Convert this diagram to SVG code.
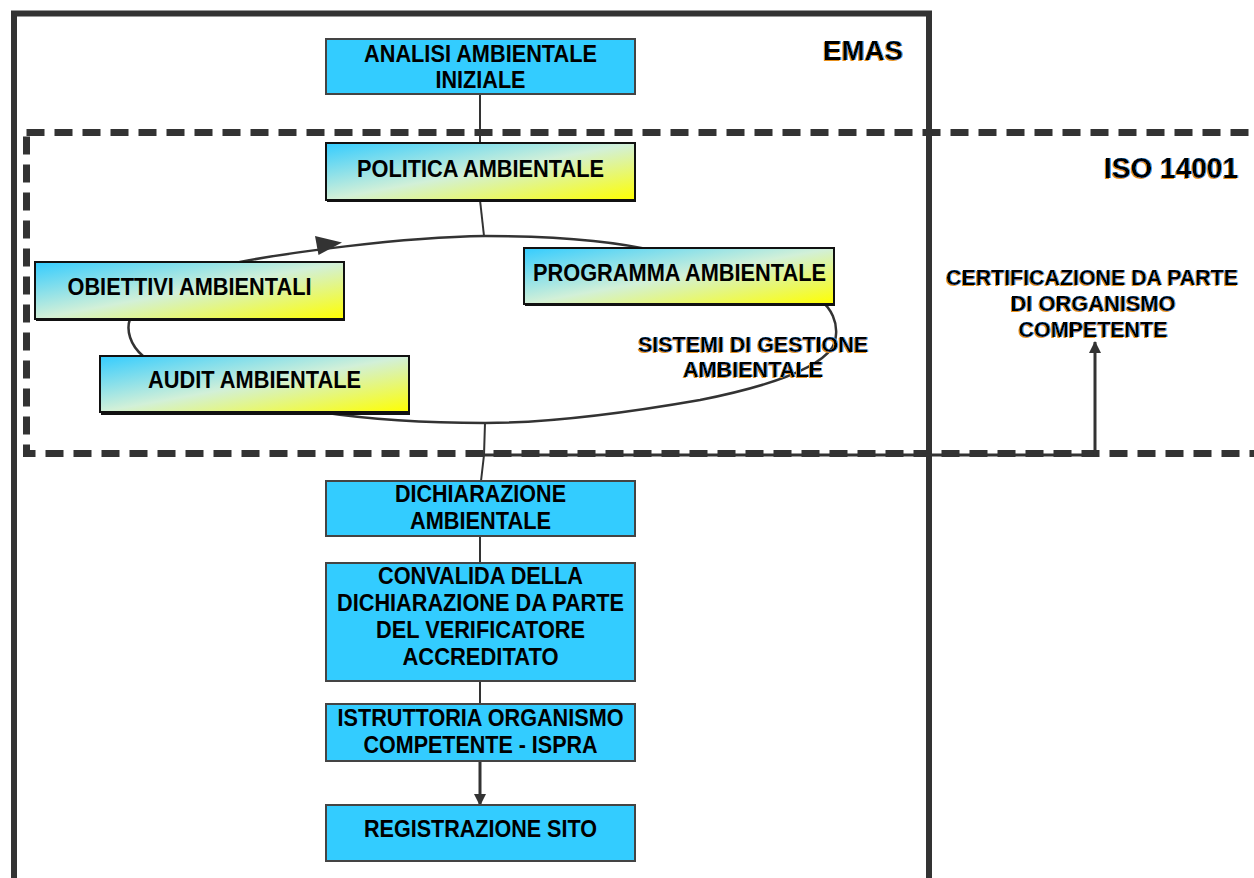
<svg xmlns="http://www.w3.org/2000/svg" width="1254" height="878" viewBox="0 0 1254 878">
<defs>
  <linearGradient id="gr" x1="0" y1="0" x2="1" y2="1">
    <stop offset="0" stop-color="#33CCFF"/>
    <stop offset="0.5" stop-color="#D2F0D8"/>
    <stop offset="1" stop-color="#FFFF00"/>
  </linearGradient>
  <filter id="ts" x="-2%" y="-20%" width="104%" height="140%">
    <feOffset in="SourceAlpha" dx="-1.5" dy="1" result="o"/>
    <feFlood flood-color="#E8901A"/>
    <feComposite in2="o" operator="in" result="orange"/>
    <feOffset in="SourceAlpha" dx="1.3" dy="0" result="b"/>
    <feFlood flood-color="#3AA0FF"/>
    <feComposite in2="b" operator="in" result="blue"/>
    <feMerge><feMergeNode in="orange"/><feMergeNode in="blue"/><feMergeNode in="SourceGraphic"/></feMerge>
  </filter>
  <marker id="ah" viewBox="0 0 12 12" refX="11" refY="6" markerWidth="12" markerHeight="12" markerUnits="userSpaceOnUse" orient="auto">
    <path d="M0,0 L12,6 L0,12 Z" fill="#333333"/>
  </marker>
</defs>
<style>
  .frame { fill: none; stroke: #333333; stroke-width: 6; }
  .dash { fill: none; stroke: #333333; stroke-width: 7; stroke-dasharray: 18 10; }
  .plain { fill: #33CCFF; stroke: #444444; stroke-width: 2; }
  .grad { fill: url(#gr); stroke: #111111; stroke-width: 2; }
  .shadow { fill: #111111; }
  .t { font-family: "Liberation Sans", Arial, sans-serif; font-weight: bold; font-size: 23px; fill: #000000; text-anchor: middle; }
  .lbl { font-family: "Liberation Sans", Arial, sans-serif; font-weight: bold; fill: #000000; text-anchor: middle; filter: url(#ts); }
  .ln { fill: none; stroke: #333333; stroke-width: 2; }
  .ln3 { fill: none; stroke: #333333; stroke-width: 3; }
  .loop { fill: none; stroke: #333333; stroke-width: 2.5; }
</style>

<rect width="1254" height="878" fill="#FFFFFF"/>

<g id="emas-frame">
  <rect class="frame" x="14" y="13.5" width="915" height="900"/>
  <text class="lbl" x="863" y="60" font-size="28" textLength="80" lengthAdjust="spacingAndGlyphs">EMAS</text>
</g>

<g id="iso-frame">
  <rect class="dash" x="26.5" y="132.5" width="1300" height="321"/>
  <text class="lbl" x="1171" y="178" font-size="29" textLength="134" lengthAdjust="spacingAndGlyphs">ISO 14001</text>
</g>

<g id="connectors">
  <line class="ln" x1="480" y1="94" x2="480" y2="143"/>
  <path class="ln" d="M480,200 L484,236"/>
  <path class="loop" d="M200,280 L240,262 C280,254 400,237 485,236 C560,236 620,242 660,252 L800,290 C835,300 842,330 832,348 C815,372 760,388 700,400 C620,414 540,423 485,423 C420,423 360,418 320,412 L200,390 L143,356 C130,345 126,330 130,319 Z"/>
  <path d="M342,242.5 L315,236 L318.5,255 Z" fill="#333333"/>
  <path class="ln" d="M485,423 L484,455 L481,481"/>
  <line class="ln" x1="480" y1="536" x2="480" y2="563"/>
  <line class="ln" x1="480" y1="681" x2="480" y2="704"/>
  <line class="ln3" x1="480" y1="762" x2="480" y2="805" marker-end="url(#ah)"/>
  <line class="ln3" x1="484" y1="455" x2="1096.5" y2="455"/>
  <line class="ln3" x1="1095" y1="456" x2="1095" y2="342" marker-end="url(#ah)"/>
</g>

<g id="analisi">
  <rect class="plain" x="326" y="39" width="309" height="55"/>
  <text class="t" x="480.5" y="62" textLength="233" lengthAdjust="spacingAndGlyphs">ANALISI AMBIENTALE</text>
  <text class="t" x="480.5" y="88" textLength="90" lengthAdjust="spacingAndGlyphs">INIZIALE</text>
</g>

<g id="politica">
  <rect class="shadow" x="327" y="145" width="309" height="57"/>
  <rect class="grad" x="326" y="143" width="309" height="57"/>
  <text class="t" x="480.5" y="177" textLength="247" lengthAdjust="spacingAndGlyphs">POLITICA AMBIENTALE</text>
</g>

<g id="obiettivi">
  <rect class="shadow" x="36" y="264" width="309" height="57"/>
  <rect class="grad" x="35" y="262" width="309" height="57"/>
  <text class="t" x="189.5" y="295" textLength="244" lengthAdjust="spacingAndGlyphs">OBIETTIVI AMBIENTALI</text>
</g>

<g id="programma">
  <rect class="shadow" x="525" y="250" width="310" height="56"/>
  <rect class="grad" x="524" y="248" width="310" height="56"/>
  <text class="t" x="679.5" y="281" textLength="293" lengthAdjust="spacingAndGlyphs">PROGRAMMA AMBIENTALE</text>
</g>

<g id="audit">
  <rect class="shadow" x="101" y="358" width="309" height="57"/>
  <rect class="grad" x="100" y="356" width="309" height="56"/>
  <text class="t" x="254.5" y="388" textLength="213" lengthAdjust="spacingAndGlyphs">AUDIT AMBIENTALE</text>
</g>

<g id="sistemi">
  <text class="lbl" x="753" y="352" font-size="21.5" textLength="230" lengthAdjust="spacingAndGlyphs">SISTEMI DI GESTIONE</text>
  <text class="lbl" x="753" y="377" font-size="21.5" textLength="140" lengthAdjust="spacingAndGlyphs">AMBIENTALE</text>
</g>

<g id="certificazione">
  <text class="lbl" x="1092" y="285" font-size="22" textLength="292" lengthAdjust="spacingAndGlyphs">CERTIFICAZIONE DA PARTE</text>
  <text class="lbl" x="1093" y="311" font-size="22" textLength="165" lengthAdjust="spacingAndGlyphs">DI ORGANISMO</text>
  <text class="lbl" x="1093" y="337" font-size="22" textLength="149" lengthAdjust="spacingAndGlyphs">COMPETENTE</text>
</g>

<g id="dichiarazione">
  <rect class="plain" x="326" y="481" width="309" height="55"/>
  <text class="t" x="480.5" y="502" textLength="171" lengthAdjust="spacingAndGlyphs">DICHIARAZIONE</text>
  <text class="t" x="480.5" y="529" textLength="141" lengthAdjust="spacingAndGlyphs">AMBIENTALE</text>
</g>

<g id="convalida">
  <rect class="plain" x="326" y="563" width="309" height="118"/>
  <text class="t" x="480.5" y="584" textLength="205" lengthAdjust="spacingAndGlyphs">CONVALIDA DELLA</text>
  <text class="t" x="480.5" y="611" textLength="287" lengthAdjust="spacingAndGlyphs">DICHIARAZIONE DA PARTE</text>
  <text class="t" x="480.5" y="638" textLength="209" lengthAdjust="spacingAndGlyphs">DEL VERIFICATORE</text>
  <text class="t" x="480.5" y="665" textLength="156" lengthAdjust="spacingAndGlyphs">ACCREDITATO</text>
</g>

<g id="istruttoria">
  <rect class="plain" x="326" y="704" width="309" height="57"/>
  <text class="t" x="480.5" y="726" textLength="286" lengthAdjust="spacingAndGlyphs">ISTRUTTORIA ORGANISMO</text>
  <text class="t" x="480.5" y="753" textLength="234" lengthAdjust="spacingAndGlyphs">COMPETENTE - ISPRA</text>
</g>

<g id="registrazione">
  <rect class="plain" x="326" y="805" width="309" height="56"/>
  <text class="t" x="480.5" y="837" textLength="233" lengthAdjust="spacingAndGlyphs">REGISTRAZIONE SITO</text>
</g>
</svg>
